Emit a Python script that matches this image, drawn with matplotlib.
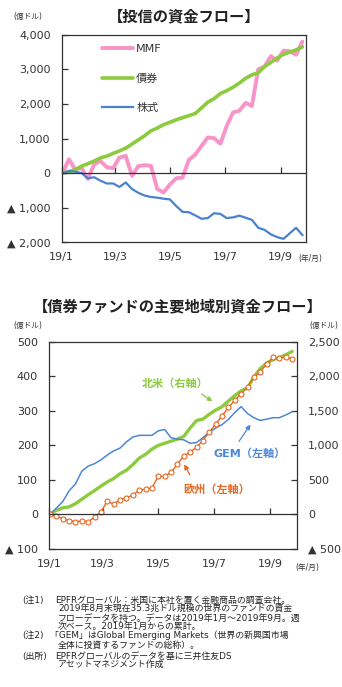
import matplotlib
matplotlib.use('Agg')
import matplotlib.pyplot as plt
import matplotlib.dates as mdates
from matplotlib.ticker import FuncFormatter
import pandas as pd

plt.rcParams['font.family'] = ['DejaVu Sans', 'Noto Sans CJK JP']

# weekly observations, Jan-Sep 2019
weeks = pd.date_range('2019-01-02', periods=39, freq='7D')
month_ticks = mdates.date2num(pd.to_datetime(
    ['2019-01-01', '2019-03-01', '2019-05-01', '2019-07-01', '2019-09-01']))
month_labels = ['19/1', '19/3', '19/5', '19/7', '19/9']

# fund flows, cumulative (100M USD)
mmf = [0, 400, 100, 150, -170, 250, 350, 170, 140, 450, 500, -80, 200, 230, 210,
       -460, -560, -330, -150, -130, 380, 530, 780, 1030, 1010, 850, 1360, 1750,
       1800, 2030, 1940, 3000, 3080, 3380, 3250, 3540, 3520, 3420, 3800]
bond = [0, 40, 100, 200, 270, 350, 440, 490, 570, 640, 720, 840, 960, 1080, 1220,
        1300, 1400, 1470, 1540, 1600, 1660, 1720, 1880, 2050, 2150, 2300, 2380,
        2480, 2600, 2740, 2840, 2900, 3080, 3200, 3330, 3430, 3500, 3560, 3650]
equity = [0, 60, 40, 0, -150, -120, -220, -300, -300, -400, -270, -460, -570, -650,
          -690, -710, -740, -760, -950, -1120, -1130, -1220, -1320, -1300, -1160,
          -1180, -1300, -1280, -1230, -1290, -1350, -1580, -1640, -1770, -1850,
          -1900, -1740, -1580, -1790]

# bond funds by region
north_america = [0, 60, 95, 110, 155, 220, 285, 345, 410, 470, 520, 590, 640, 720,
                 815, 870, 945, 1000, 1030, 1060, 1090, 1130, 1250, 1360, 1380, 1450,
                 1510, 1560, 1640, 1720, 1790, 1830, 1990, 2110, 2190, 2240, 2270,
                 2310, 2360]
gem = [0, 18, 37, 68, 88, 125, 140, 147, 158, 172, 184, 192, 210, 224, 229, 229, 229,
       242, 246, 222, 218, 216, 206, 208, 222, 238, 250, 260, 275, 295, 312, 292, 280,
       272, 276, 280, 280, 288, 297]
europe = [0, -5, -12, -18, -21, -19, -21, -8, 8, 38, 30, 43, 48, 56, 70, 73, 77, 110,
          110, 122, 145, 170, 180, 195, 214, 238, 262, 285, 310, 330, 350, 370, 397,
          413, 435, 455, 452, 456, 450]

TXT = '#333333'


def tri_fmt(v, pos):
    if v < 0:
        return '▲ {:,.0f}'.format(-v)
    return '{:,.0f}'.format(v)


def frame(ax, xmax):
    for s in ax.spines.values():
        s.set_color(TXT)
        s.set_linewidth(0.9)
    ax.set_xlim(pd.Timestamp('2019-01-01'), pd.Timestamp(xmax))
    # x ticks sit on the zero line, labels go under the frame
    ax.spines['bottom'].set_position(('data', 0))
    ax.set_xticks(month_ticks)
    ax.tick_params(axis='x', direction='in', length=4, width=0.9, color=TXT,
                   labelbottom=False)
    sec = ax.secondary_xaxis('bottom')
    sec.set_xticks(month_ticks, month_labels)
    sec.tick_params(length=0, pad=7, labelsize=8, labelcolor=TXT)
    sec.spines['bottom'].set_color(TXT)
    sec.spines['bottom'].set_linewidth(0.9)
    ax.yaxis.set_major_formatter(FuncFormatter(tri_fmt))
    ax.tick_params(axis='y', direction='in', length=4, width=0.9, color=TXT,
                   pad=8, labelsize=8, labelcolor=TXT)


fig = plt.figure(figsize=(3.42, 6.87), dpi=100)

# ---- top: fund flows ----
fig.text(0.538, 1 - 17 / 687, '【投信の資金フロー】', ha='center', va='center',
         fontsize=11, fontweight='bold', color='#222222')
fig.text(13 / 342, 1 - 16 / 687, '(億ドル)', ha='left', va='center',
         fontsize=5.5, color=TXT)

ax1 = fig.add_axes([61.7 / 342, 1 - 242.3 / 687, 244.3 / 342, 207.6 / 687])
l_mmf, = ax1.plot(weeks, mmf, color='#F994C8', lw=2.8, solid_capstyle='round')
l_bond, = ax1.plot(weeks, bond, color='#8CCB3E', lw=2.6, solid_capstyle='round')
l_eq, = ax1.plot(weeks, equity, color='#4A82CF', lw=1.6)
ax1.set_ylim(-2000, 4000)
ax1.set_yticks(range(-2000, 4001, 1000))
frame(ax1, '2019-09-29')
ax1.legend([l_mmf, l_bond, l_eq], ['MMF', '債券', '株式'], loc='upper left',
           bbox_to_anchor=(0.164, 0.955), frameon=False, fontsize=8,
           handlelength=2.8, handletextpad=0.3, labelspacing=1.75,
           borderaxespad=0, borderpad=0, labelcolor=TXT)
fig.text(298 / 342, 1 - 258 / 687, '(年/月)', ha='left', va='center',
         fontsize=5.5, color=TXT)

# ---- bottom: bond funds by region ----
fig.text(0.519, 1 - 306.7 / 687, '【債券ファンドの主要地域別資金フロー】',
         ha='center', va='center', fontsize=11, fontweight='bold', color='#222222')
fig.text(13 / 342, 1 - 325 / 687, '(億ドル)', ha='left', va='center',
         fontsize=5.5, color=TXT)
fig.text(309 / 342, 1 - 325 / 687, '(億ドル)', ha='left', va='center',
         fontsize=5.5, color=TXT)

ax2 = fig.add_axes([49 / 342, 1 - 549 / 687, 247.7 / 342, 207.3 / 687])
ax3 = ax2.twinx()
ax2.set_zorder(ax3.get_zorder() + 1)
ax2.patch.set_visible(False)

ax3.plot(weeks, north_america, color='#8CCB3E', lw=2.4, solid_capstyle='round')
ax2.plot(weeks, gem, color='#4C87D6', lw=1.1)
ax2.plot(weeks, europe, color='#E8661E', lw=1.0, marker='o', ms=3.6,
         mfc='white', mec='#E8661E', mew=0.8)

ax2.set_ylim(-100, 500)
ax2.set_yticks(range(-100, 501, 100))
ax3.set_ylim(-500, 2500)
ax3.set_yticks(range(-500, 2501, 500))
frame(ax2, '2019-09-30')
for s in ax3.spines.values():
    s.set_visible(False)
ax3.yaxis.set_major_formatter(FuncFormatter(tri_fmt))
ax3.tick_params(axis='y', direction='in', length=4, width=0.9, color=TXT,
                pad=8, labelsize=8, labelcolor=TXT)
fig.text(295 / 342, 1 - 567 / 687, '(年/月)', ha='left', va='center',
         fontsize=5.5, color=TXT)

# series labels with arrows
ax3.text(pd.Timestamp('2019-05-19'), 1888, '北米（右軸）', ha='center', va='center',
         fontsize=8, fontweight='bold', color='#8CCB3E')
ax3.annotate('', xy=(pd.Timestamp('2019-07-02'), 1614),
             xytext=(pd.Timestamp('2019-06-15'), 1766),
             arrowprops=dict(arrowstyle='-|>', color='#8CCB3E', lw=0.9,
                             mutation_scale=7))
ax2.text(pd.Timestamp('2019-08-09'), 176, 'GEM（左軸）', ha='center', va='center',
         fontsize=8, fontweight='bold', color='#4C87D6')
ax2.annotate('', xy=(pd.Timestamp('2019-08-12'), 267),
             xytext=(pd.Timestamp('2019-07-27'), 205),
             arrowprops=dict(arrowstyle='-|>', color='#4C87D6', lw=0.9,
                             mutation_scale=7))
ax2.text(pd.Timestamp('2019-07-04'), 72, '欧州（左軸）', ha='center', va='center',
         fontsize=8, fontweight='bold', color='#E8661E')
ax2.annotate('', xy=(pd.Timestamp('2019-05-28'), 152),
             xytext=(pd.Timestamp('2019-06-06'), 108),
             arrowprops=dict(arrowstyle='-|>', color='#E8661E', lw=0.9,
                             mutation_scale=7))

# ---- notes ----
notes = [
    (600, '(注1)', 'EPFRグローバル：米国に本社を置く金融商品の調査会社。', 55),
    (609.3, '', '2019年8月末現在35.3兆ドル規模の世界のファンドの資金', 58),
    (618.3, '', 'フローデータを持つ。データは2019年1月～2019年9月。週', 58),
    (626.7, '', '次ベース。2019年1月からの累計。', 58),
    (635.7, '(注2)', '「GEM」はGlobal Emerging Markets（世界の新興国市場', 50),
    (645, '', '全体に投資するファンドの総称）。', 58),
    (656, '(出所)', 'EPFRグローバルのデータを基に三井住友DS', 55),
    (664.3, '', 'アセットマネジメント作成', 58),
]
for y, head, body, x in notes:
    if head:
        fig.text(22 / 342, 1 - y / 687, head, ha='left', va='center', fontsize=6.4,
                 color='#222222')
    fig.text(x / 342, 1 - y / 687, body, ha='left', va='center', fontsize=6.4,
             color='#222222')

fig.savefig('out.png', dpi=100, facecolor='white')
